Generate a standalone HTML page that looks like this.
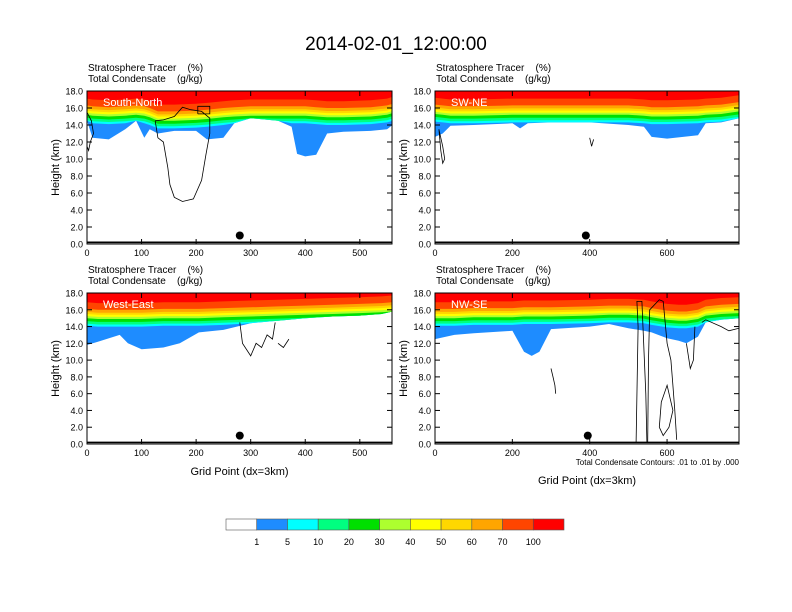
<!DOCTYPE html>
<html><head><meta charset="utf-8">
<style>
html,body{margin:0;padding:0;background:#fff;}
svg{display:block;font-family:"Liberation Sans",sans-serif;}
text{white-space:pre;}
</style></head>
<body>
<svg id="fig" width="792" height="612" viewBox="0 0 792 612" xmlns="http://www.w3.org/2000/svg">
<text x="396" y="50" font-size="19" text-anchor="middle">2014-02-01_12:00:00</text>
<g id="panels"></g>
<g id="cbar"></g>
</svg>
<script>
// ---- data ----
const levelLabels = ["1","5","10","20","30","40","50","60","70","100"];
const levelColors = ["#ffffff","#1e8cff","#00ffff","#00ff80","#00e000","#adff2f","#ffff00","#ffd700","#ffa500","#ff4500","#ff0000"];
const levelOffsets = [null,-2.0,-1.75,-1.45,-1.1,-0.85,-0.6,-0.35,0,0.8];
const yTicks = [0,2,4,6,8,10,12,14,16,18];

const p1X    = [0,10,40,70,90,105,115,130,160,200,220,250,270,300,350,375,385,400,420,440,470,520,550,560];
const p1Base = [14.5,12.5,12.3,13.5,14.5,12.5,13.5,13.0,13.3,13.3,12.3,12.5,14.2,14.8,14.5,13.8,10.6,10.3,10.5,13.0,13.2,13.3,13.5,14.0];
const p1Top  = [16.3,16.2,16.1,16.2,16.3,16.2,16.0,15.6,15.6,15.7,15.8,16.0,16.1,16.2,16.2,16.2,16.2,16.2,16.1,16.0,16.0,16.1,16.3,16.5];
const p2X    = [0,20,40,100,200,220,240,300,400,500,540,560,600,680,700,740,786];
const p2Base = [12.6,13.0,13.9,14.0,14.2,13.6,14.2,14.3,14.3,14.0,13.8,12.6,12.4,12.8,14.2,14.3,14.8];
const p2Top  = [16.4,16.3,16.2,16.2,16.3,16.3,16.3,16.3,16.3,16.3,16.2,16.1,16.1,16.2,16.3,16.4,16.7];
const p3X    = [0,20,60,75,100,140,170,205,250,300,350,400,450,500,540,560];
const p3Base = [11.8,12.2,13.0,12.0,11.3,11.5,12.0,13.3,13.6,14.4,14.7,15.0,15.2,15.3,15.5,15.8];
const p3Top  = [16.1,16.0,16.0,16.0,16.0,16.1,16.1,16.1,16.2,16.3,16.4,16.5,16.6,16.7,16.8,16.9];
const p4X    = [0,50,100,200,230,250,270,300,400,450,500,540,560,600,630,650,680,700,740,786];
const p4Base = [12.5,13.0,13.2,13.5,11.0,10.5,11.0,13.7,14.0,14.3,13.8,13.5,13.3,12.6,12.3,12.0,12.8,14.5,14.8,15.0];
const p4Top  = [16.1,16.1,16.2,16.2,16.3,16.3,16.3,16.3,16.4,16.5,16.5,16.4,16.2,15.9,15.8,15.8,16.0,16.4,16.6,16.7];

const p1Contours = [
 [[125,14.5],[130,12.5],[140,12],[148,9],[152,7],[160,5.5],[175,5],[195,5.3],[210,7.5],[218,10.5],[225,13],[225,14.8],[210,15.6],[190,15.8],[175,16.1],[160,15],[140,14.6],[125,14.5]],
 [[0,15.5],[8,14.5],[12,13],[6,12],[3,11],[0,11.5]],
 [[203,15.3],[225,15.3],[225,16.2],[203,16.2],[203,15.3]]
];
const p2Contours = [ [[10,13.5],[20,11.5],[25,10],[20,9.5],[15,11],[10,13.5]], [[400,12.5],[405,11.5],[410,12.3]] ];
const p3Contours = [ [[280,14.5],[285,12],[300,10.5],[310,12],[320,11.5],[330,13],[340,12.5],[345,14.5]], [[350,12],[360,11.5],[370,12.5]] ];
const p4Contours = [
 [[520,0.2],[525,14],[522,17],[535,17],[545,6],[548,0.2]],
 [[550,0.2],[552,10],[555,16],[580,17.2],[590,17],[600,12],[610,10],[615,7],[620,4],[625,0.5]],
 [[580,2],[585,5],[600,7],[615,4],[605,2],[590,1],[580,2]],
 [[690,14.5],[700,14.8],[740,14],[760,13.5],[786,13.8]],
 [[650,12],[660,9],[668,10],[672,14]],
 [[300,9],[305,8],[310,7],[312,6]]
];
const dots = [280,390,280,395];

// ---- layout ----
const NS="http://www.w3.org/2000/svg";
const panels = [
 {x0:87,x1:392,y0:91,y1:244,xmax:559,ticks:[0,100,200,300,400,500],X:p1X,B:p1Base,T:p1Top,C:p1Contours,label:"South-North",dot:dots[0],name:"south-north"},
 {x0:435,x1:739,y0:91,y1:244,xmax:786,ticks:[0,200,400,600],X:p2X,B:p2Base,T:p2Top,C:p2Contours,label:"SW-NE",dot:dots[1],name:"sw-ne"},
 {x0:87,x1:392,y0:293,y1:444,xmax:559,ticks:[0,100,200,300,400,500],X:p3X,B:p3Base,T:p3Top,C:p3Contours,label:"West-East",dot:dots[2],name:"west-east",xlab:true},
 {x0:435,x1:739,y0:293,y1:444,xmax:786,ticks:[0,200,400,600],X:p4X,B:p4Base,T:p4Top,C:p4Contours,label:"NW-SE",dot:dots[3],name:"nw-se",xlab:true,foot:true}
];
const root=document.getElementById('panels');
function mk(tag,attrs,parent){const e=document.createElementNS(NS,tag);for(const k in attrs)e.setAttribute(k,attrs[k]);(parent||root).appendChild(e);return e;}
panels.forEach((p,pi)=>{
 const g=mk('g',{});
 
 
 const sx=v=>p.x0+(v/p.xmax)*(p.x1-p.x0);
 const sy=v=>p.y1-(v/18)*(p.y1-p.y0);
 const cid='clip'+pi;
 const cp=mk('clipPath',{id:cid},g);mk('rect',{x:p.x0,y:p.y0,width:p.x1-p.x0,height:p.y1-p.y0},cp);
 const fg=mk('g',{'clip-path':'url(#'+cid+')'},g);
 for(let k=1;k<levelColors.length;k++){
  const pts=p.X.map((x,i)=>{let h=k===1?p.B[i]:Math.max(p.B[i],p.T[i]+levelOffsets[k-1]);return sx(x).toFixed(1)+','+sy(h).toFixed(1);});
  pts.push(sx(p.X[p.X.length-1])+','+sy(18.5));pts.push(sx(0)+','+sy(18.5));
  const poly=mk('polygon',{points:pts.join(' '),fill:levelColors[k]},fg);
  
  
 }
 p.C.forEach(c=>{
  const pl=mk('polyline',{points:c.map(q=>sx(q[0]).toFixed(1)+','+sy(q[1]).toFixed(1)).join(' '),fill:'none',stroke:'#000','stroke-width':0.8},fg);
  
  
 });
 mk('line',{x1:p.x0,x2:p.x1,y1:sy(0.2),y2:sy(0.2),stroke:'#000','stroke-width':1.5},fg);
 mk('line',{x1:p.x0,x2:p.x1,y1:sy(0.05),y2:sy(0.05),stroke:'#888','stroke-width':1},fg);
 const d=mk('circle',{cx:sx(p.dot),cy:sy(1.0),r:4,fill:'#000'},g);
 
 
 mk('rect',{x:p.x0,y:p.y0,width:p.x1-p.x0,height:p.y1-p.y0,fill:'none',stroke:'#000','stroke-width':1},g);
 yTicks.forEach(t=>{
  mk('line',{x1:p.x0,x2:p.x0+5,y1:sy(t),y2:sy(t),stroke:'#000'},g);
  mk('line',{x1:p.x1,x2:p.x1-5,y1:sy(t),y2:sy(t),stroke:'#000'},g);
  const tx=mk('text',{x:p.x0-4,y:sy(t)+3.5,'font-size':9,'text-anchor':'end'},g);tx.textContent=t.toFixed(1);
  
  
 });
 p.ticks.forEach(t=>{
  mk('line',{x1:sx(t),x2:sx(t),y1:p.y1,y2:p.y1-5,stroke:'#000'},g);
  mk('line',{x1:sx(t),x2:sx(t),y1:p.y0,y2:p.y0+5,stroke:'#000'},g);
  const tx=mk('text',{x:sx(t),y:p.y1+12,'font-size':9,'text-anchor':'middle'},g);tx.textContent=t;
  
  
 });
 const yl=mk('text',{x:0,y:0,'font-size':11,'text-anchor':'middle',transform:`translate(${p.x0-28},${(p.y0+p.y1)/2}) rotate(-90)`},g);yl.textContent='Height (km)';
 
 
 const t1=mk('text',{x:p.x0+1,y:p.y0-20,'font-size':10},g);t1.textContent='Stratosphere Tracer    (%)';
 
 
 const t2=mk('text',{x:p.x0+1,y:p.y0-9,'font-size':10},g);t2.textContent='Total Condensate    (g/kg)';
 
 
 const lb=mk('text',{x:p.x0+16,y:p.y0+15,'font-size':11,fill:'#fff'},g);lb.textContent=p.label;
 
 
 if(p.xlab){
  const xl=mk('text',{x:(p.x0+p.x1)/2,y:p.foot?484:475,'font-size':11,'text-anchor':'middle'},g);xl.textContent='Grid Point (dx=3km)';
  
  
 }
 if(p.foot){
  const ft=mk('text',{x:p.x1,y:p.y1+21,'font-size':8,'text-anchor':'end'},g);ft.textContent='Total Condensate Contours: .01 to .01 by .000';
  
  
 }
});
// colorbar
const cb=document.getElementById('cbar');
const cx0=226,cx1=564,cw=(cx1-cx0)/levelColors.length;
levelColors.forEach((c,i)=>{
 const r=mk('rect',{x:cx0+i*cw,y:519,width:cw,height:11,fill:c,stroke:'#555','stroke-width':0.6},cb);
 
 
});
levelLabels.forEach((l,i)=>{
 const t=mk('text',{x:cx0+(i+1)*cw,y:545,'font-size':9,'text-anchor':'middle'},cb);t.textContent=l;
 
 
});
</script>
</body></html>
